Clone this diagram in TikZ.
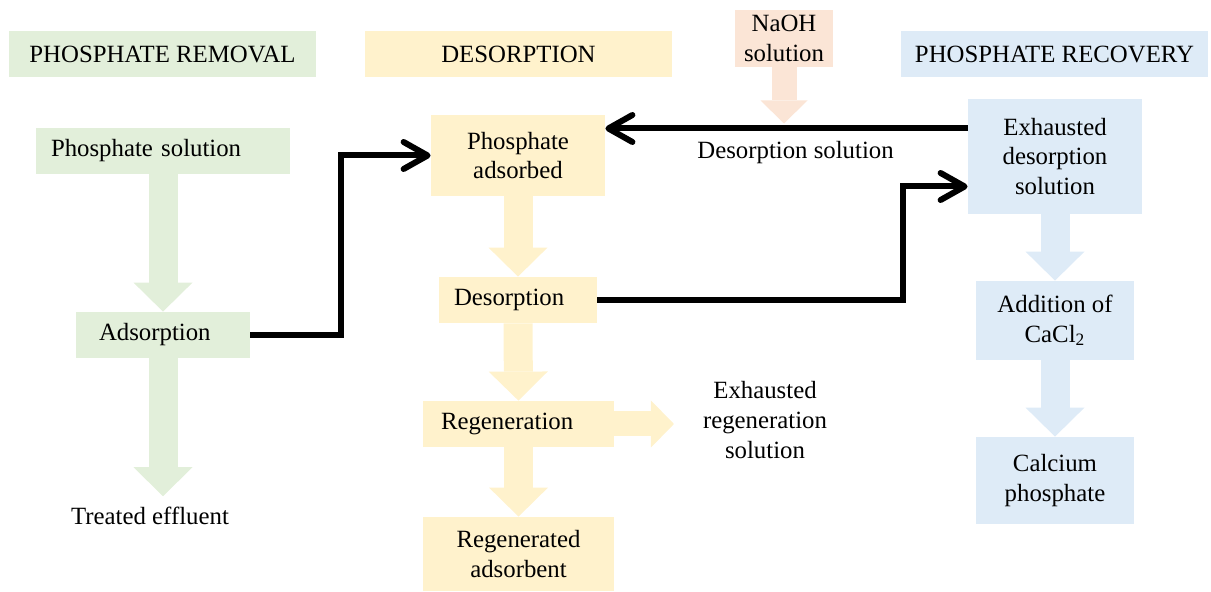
\documentclass[tikz,border=0pt]{standalone}
\usepackage{fontspec}
\setmainfont{Liberation Serif}
\usetikzlibrary{arrows.meta,calc}
\definecolor{remgreen}{HTML}{E2EFDA}
\definecolor{desyellow}{HTML}{FFF2CC}
\definecolor{recblue}{HTML}{DEEBF7}
\definecolor{naohpink}{HTML}{FBE5D6}
\begin{document}
\begin{tikzpicture}[x=0.5pt,y=-0.5pt,font=\fontsize{12.4}{14.8}\selectfont,
  box/.style={inner sep=0pt,align=center},
  greenbox/.style={box,fill=remgreen},
  yellowbox/.style={box,fill=desyellow},
  bluebox/.style={box,fill=recblue},
  fatarrow/.style={line width=14.5pt,-{Triangle[length=14.5pt,width=29.5pt,line width=0pt]}},
  thinfat/.style={line width=12.5pt,-{Triangle[length=11.5pt,width=23.5pt,line width=0pt]}},
  conn/.style={line width=3pt,line join=miter,-{Straight Barb[length=12pt,width=13.5pt,round]}}]
		\useasboundingbox (0,0) rectangle (1211,592);
		% headers
		\node[greenbox,minimum width=153.5pt,minimum height=23pt] (rem) at (162.5,54) {PHOSPHATE REMOVAL};
		\node[yellowbox,minimum width=153.5pt,minimum height=23pt] (des) at (518.5,54) {DESORPTION};
		\node[bluebox,minimum width=153.5pt,minimum height=23pt] (rec) at (1054.5,54) {PHOSPHATE RECOVERY};
		% removal
		\node[greenbox,minimum height=23pt,text width=112pt,inner xsep=7.5pt,align=left] (psol) at (163,151) {Phosphate solution};
		\node[greenbox,minimum height=23pt,text width=64pt,inner xsep=11.5pt,align=left] (ads) at (163,335) {Adsorption};
		\node[inner sep=0pt] (eff) at (150,515.5) {Treated effluent};
		% desorption
		\node[yellowbox,minimum width=87pt,minimum height=40.5pt] (pads) at (518,155.5) {Phosphate\\adsorbed};
		\node[yellowbox,minimum height=23pt,text width=64pt,inner xsep=7.5pt,align=left] (desn) at (518,300) {Desorption};
		\node[yellowbox,minimum height=23pt,text width=77.5pt,inner xsep=9pt,align=left] (regen) at (518.5,424) {Regeneration};
		\node[yellowbox,minimum width=95.5pt,minimum height=37pt] (regad) at (518.5,554) {Regenerated\\adsorbent};
		\node[align=center] (exreg) at (765,420) {Exhausted\\regeneration\\solution};
		\node[box,fill=naohpink,minimum width=49pt,minimum height=28.5pt] (naoh) at (784,38.5) {NaOH\\solution};
		% recovery
		\node[bluebox,minimum width=87pt,minimum height=57.5pt] (exh) at (1055,156.5) {Exhausted\\desorption\\solution};
		\node[bluebox,minimum width=79pt,minimum height=39.5pt] (cacl) at (1055,320.5) {Addition of\\CaCl\textsubscript{2}};
		\node[bluebox,minimum width=79pt,minimum height=43.5pt] (caph) at (1055,480.5) {Calcium\\phosphate};
		% block arrows
		\draw[fatarrow,remgreen] (psol) -- (ads);
		\draw[fatarrow,remgreen,shorten >=5pt] (ads.south) -- (ads.south |- eff.north);
		\draw[fatarrow,desyellow] (pads) -- (desn);
		\draw[fatarrow,desyellow] (desn) -- (regen);
		\draw[fatarrow,desyellow] (regen) -- (regad);
		\draw[thinfat,desyellow,shorten >=11pt] (regen.east) -- (regen.east -| exreg.west);
		\draw[fatarrow,recblue] (exh) -- (cacl);
		\draw[fatarrow,recblue] (cacl) -- (caph);
		% flows
		\coordinate (dtop) at ($(exh.west)+(0,-28)$);
		\draw[thinfat,naohpink] (naoh.south) -- ($(naoh.south |- dtop)+(0,-5)$);
		\draw[conn] (ads.east) -- ++(91,0) |- (pads.west);
		\draw[conn] (desn.east) -- ++(306,0) |- ($(exh.west)+(0,30)$);
		\draw[conn] (dtop) -- node[pos=0.475,below=1.5pt] (dsol) {Desorption solution} (dtop -| pads.east);
\end{tikzpicture}
\end{document}
